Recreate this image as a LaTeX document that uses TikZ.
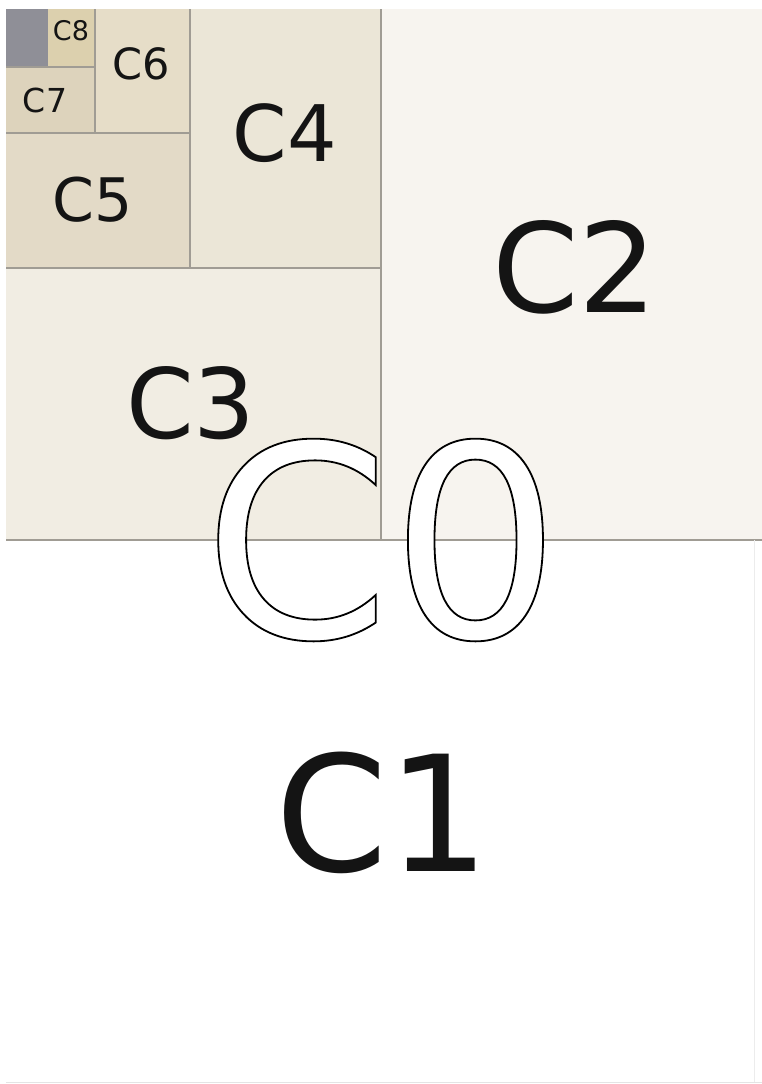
\documentclass[tikz,border=0pt]{standalone}
\usepackage{fontspec}
\setmainfont{DejaVu Sans}
\definecolor{SheetTwo}{HTML}{F7F4EF}
\definecolor{SheetThree}{HTML}{F1EDE3}
\definecolor{SheetFour}{HTML}{EBE6D7}
\definecolor{SheetFive}{HTML}{E3DAC7}
\definecolor{SheetSix}{HTML}{E6DDC8}
\definecolor{SheetSeven}{HTML}{DDD3BC}
\definecolor{SheetEight}{HTML}{DCD0AE}
\definecolor{SheetRest}{HTML}{8F8F97}
\definecolor{SheetLine}{HTML}{A09C94}
\definecolor{SheetEdge}{HTML}{E4E4E4}
% hollow letters: white fill, black stroke
\newcommand{\hollowtext}[1]{\special{pdf:literal direct 0 G 1.8 w 2 Tr}#1\special{pdf:literal direct 0 Tr}}

\begin{document}
\begin{tikzpicture}[
    x=1pt,
    y=-1pt,
    cut/.style={draw=SheetLine, line width=1.4pt},
    paperlabel/.style={inner sep=0pt, text=black!92, font=\fontsize{#1}{#1}\selectfont}
]

\useasboundingbox[fill=white] (0,0) rectangle (762,1084);

% sheets
\fill[SheetTwo] (381,9) rectangle (762,540);
\fill[SheetThree] (6,268) rectangle (381,540);
\fill[SheetFour] (190,9) rectangle (381,268);
\fill[SheetFive] (6,133) rectangle (190,268);
\fill[SheetSix] (95,9) rectangle (190,133);
\fill[SheetSeven] (6,67) rectangle (95,133);
\fill[SheetEight] (48,9) rectangle (95,67);
\fill[SheetRest] (6,9) rectangle (48,67);

% cuts
\draw[cut] (6,540) -- (762,540);
\draw[cut] (381,9) -- (381,540);
\draw[cut] (6,268) -- (381,268);
\draw[cut] (190,9) -- (190,268);
\draw[cut] (6,133) -- (190,133);
\draw[cut] (95,9) -- (95,133);
\draw[cut] (6,67) -- (95,67);
\draw[draw=SheetEdge, line width=1.2pt] (6,1082.5) -- (762,1082.5);
\draw[draw=SheetEdge!70, line width=1pt] (754,540) -- (754,1082);

% labels
\node[paperlabel=161] (c1) at (383,813) {C1};
\node[paperlabel=124] (c2) at (575,267) {C2};
\node[paperlabel=97] (c3) at (191,403) {C3};
\node[paperlabel=78] (c4) at (285,133) {C4};
\node[paperlabel=60] (c5) at (93,200) {C5};
\node[paperlabel=43] (c6) at (141,64) {C6};
\node[paperlabel=33] (c7) at (45,100) {C7};
\node[paperlabel=27] (c8) at (71,31) {C8};
\node[inner sep=0pt, text=white, font=\fontsize{268}{268}\selectfont] (c0) at (382,540) {\hollowtext{C0}};

\end{tikzpicture}
\end{document}
